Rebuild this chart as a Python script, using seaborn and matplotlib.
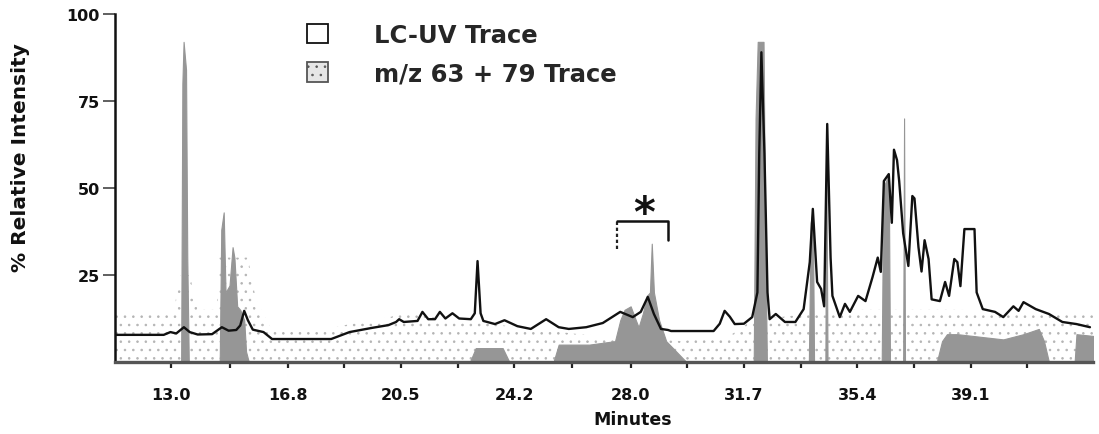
import matplotlib
matplotlib.use("Agg")
import matplotlib.pyplot as plt
from matplotlib.patches import Patch
import seaborn as sns

# LC-UV absorbance trace (minutes, % relative intensity)
uv_time = [11.16, 12.75, 12.97, 13.16, 13.41, 13.60, 13.86, 14.33, 14.65, 14.87,
           15.12, 15.25, 15.38, 15.50, 15.66, 16.01, 16.29, 18.22, 18.82, 19.55,
           20.09, 20.34, 20.44, 20.59, 21.04, 21.20, 21.39, 21.61, 21.77, 21.95,
           22.18, 22.40, 22.78, 22.91, 23.00, 23.10, 23.19, 23.57, 23.88, 24.30,
           24.74, 25.24, 25.65, 25.98, 26.55, 27.09, 27.66, 28.07, 28.33, 28.56,
           28.76, 28.99, 29.22, 29.32, 30.71, 30.91, 31.07, 31.24, 31.40, 31.70,
           31.97, 32.14, 32.20, 32.27, 32.37, 32.47, 32.54, 32.74, 33.04, 33.38,
           33.65, 33.85, 33.95, 34.09, 34.22, 34.32, 34.42, 34.53, 34.59, 34.83,
           35.00, 35.16, 35.43, 35.67, 35.90, 36.07, 36.17, 36.27, 36.43, 36.53,
           36.60, 36.70, 36.77, 36.90, 37.07, 37.20, 37.27, 37.40, 37.50, 37.60,
           37.73, 37.83, 38.10, 38.27, 38.40, 38.57, 38.67, 38.77, 38.90, 39.23,
           39.30, 39.50, 39.90, 40.17, 40.50, 40.67, 40.83, 41.23, 41.66, 42.10,
           42.56, 43.00]
uv_signal = [7.8, 7.8, 8.6, 8.2, 10.0, 8.6, 7.9, 8.0, 10.0, 9.0,
             9.2, 10.5, 14.7, 12.0, 9.3, 8.6, 6.6, 6.6, 8.6, 9.8,
             10.6, 11.5, 12.3, 11.5, 11.8, 14.4, 12.3, 12.3, 14.4, 12.5,
             14.0, 12.5, 12.3, 14.0, 29.0, 14.0, 11.8, 10.9, 12.0, 10.3,
             9.5, 12.3, 10.0, 9.5, 10.0, 11.2, 14.4, 12.9, 14.4, 18.7,
             13.8, 9.5, 9.2, 8.9, 8.9, 11.0, 14.7, 13.0, 10.9, 11.0,
             12.9, 20.0, 60.0, 89.0, 60.0, 20.0, 12.3, 13.8, 11.5, 11.5,
             15.2, 28.7, 44.0, 23.0, 21.0, 16.0, 68.4, 30.0, 19.0, 12.9,
             16.7, 14.4, 19.0, 17.5, 24.4, 30.0, 25.9, 52.0, 54.0, 40.0,
             61.0, 58.0, 52.0, 37.0, 27.6, 47.7, 47.0, 33.0, 26.0, 35.0,
             29.6, 18.0, 17.5, 23.0, 19.0, 29.6, 28.7, 21.8, 38.2, 38.2,
             20.0, 15.2, 14.4, 12.9, 16.0, 14.7, 17.2, 15.2, 13.8, 11.5,
             10.9, 10.0]

# m/z 63 + 79 ion trace, dense part
mz_time = [11.16, 13.32, 13.36, 13.40, 13.48, 13.52, 13.57, 14.58, 14.63, 14.71,
           14.77, 14.90, 15.00, 15.06, 15.15, 15.25, 15.38, 15.44, 15.53, 22.75,
           22.94, 23.82, 24.04, 25.48, 25.65, 26.65, 27.49, 27.66, 27.80, 28.00,
           28.17, 28.26, 28.40, 28.53, 28.63, 28.69, 28.76, 28.93, 29.16, 29.49,
           29.82, 32.02, 32.08, 32.15, 32.34, 32.39, 32.45, 33.82, 33.88, 33.95,
           33.99, 34.36, 34.39, 34.43, 36.20, 36.25, 36.43, 36.47, 36.90, 36.93,
           36.96, 38.00, 38.17, 38.33, 38.67, 39.17, 39.67, 40.17, 40.83, 41.33,
           41.50, 41.66, 42.50, 42.56, 43.10]
mz_signal = [0, 0, 80, 92, 84, 30, 0, 0, 38, 43,
             20, 22, 33, 30, 16, 15, 12, 3, 0, 0,
             4, 4, 0, 0, 5, 5, 6, 12, 15, 16,
             12, 10, 14, 19, 20, 34, 20, 12, 6, 3,
             0, 0, 70, 92, 92, 40, 0, 0, 40, 44,
             0, 0, 62, 0, 0, 50, 54, 0, 0, 70,
             0, 0, 6, 8, 8, 7.5, 7, 6.5, 8, 9.5,
             6, 0, 0, 8, 7.5]

# m/z trace, scattered low-level signal envelope
scatter_time = [11.16, 13.06, 13.30, 13.60, 13.86, 14.49, 14.56, 15.50, 15.76, 16.23,
                18.29, 20.18, 20.50, 22.40, 24.30, 26.30, 29.66, 31.31, 31.97, 35.00,
                38.67, 43.10]
scatter_level = [14, 14, 25, 25, 15, 15, 30, 30, 18, 10,
                 10, 13, 14, 12, 10, 8, 6, 8, 12, 15,
                 15, 14]

x_ticks = [13.0, 16.8, 20.5, 24.2, 28.0, 31.7, 35.4, 39.1]
x_minor = [14.9, 18.65, 22.35, 26.1, 29.85, 33.55, 37.25, 40.95]
y_ticks = [25, 50, 75, 100]
series_labels = ["LC-UV Trace", "m/z 63 + 79 Trace"]

sns.set_theme(style="ticks")
plt.rcParams["font.family"] = ["DejaVu Sans"]
plt.rcParams["hatch.linewidth"] = 0.6

W, H = 1099, 435
fig = plt.figure(figsize=(W / 100, H / 100), dpi=100)
ax = fig.add_axes([115 / W, 72 / H, (1093 - 115) / W, 348 / H])

gray = "#969696"
ax.fill_between(scatter_time, 0, scatter_level, facecolor="none",
                edgecolor="#b4b4b4", hatch="..", linewidth=0, zorder=1)
ax.fill_between(mz_time, 0, mz_signal, facecolor=gray, edgecolor=gray,
                linewidth=0.8, zorder=2)
sns.lineplot(x=uv_time, y=uv_signal, color="#111111", linewidth=1.7,
             estimator=None, sort=False, ax=ax, zorder=3)

# bracket marking the region of interest
ax.plot([27.55, 27.55], [32.5, 40.5], color="#222222", lw=1.6, ls=(0, (1.5, 1.2)), zorder=4)
ax.plot([27.55, 29.22, 29.22], [40.5, 40.5, 35.0], color="#111111", lw=1.8, zorder=4)
ax.text(28.43, 36.5, "*", ha="center", va="bottom", fontsize=30,
        fontweight="bold", color="#111111")

ax.set_xlim(11.16, 43.1)
ax.set_ylim(0, 100)
ax.set_xticks(x_ticks)
ax.set_xticklabels([f"{t:.1f}" for t in x_ticks])
ax.set_xticks(x_minor, minor=True)
ax.set_yticks(y_ticks)

for side in ("top", "right"):
    ax.spines[side].set_visible(False)
ax.spines["left"].set_color("#111111")
ax.spines["left"].set_linewidth(1.8)
ax.spines["bottom"].set_color("#555555")
ax.spines["bottom"].set_linewidth(2.4)

ax.tick_params(axis="x", which="both", direction="out", length=4, width=1.6,
               color="#222222", pad=14, labelsize=11.5)
ax.tick_params(axis="y", direction="out", length=9, width=1.2,
               color="#444444", pad=2, labelsize=11.5)
for lab in ax.get_xticklabels() + ax.get_yticklabels():
    lab.set_fontweight("bold")
    lab.set_color("#111111")

ax.set_xlabel("Minutes", fontsize=12.5, fontweight="bold", color="#111111")
ax.set_ylabel("% Relative Intensity", fontsize=14.5, fontweight="bold", color="#111111")
ax.xaxis.set_label_coords(0.529, -0.138)
ax.yaxis.set_label_coords(-0.087, 0.589)

handles = [
    Patch(facecolor="white", edgecolor="#111111", linewidth=1.3),
    Patch(facecolor="#e6e6e6", edgecolor="#555555", hatch="..", linewidth=1.3),
]
leg = fig.legend(handles, series_labels, loc="upper left",
                 bbox_to_anchor=(307 / W, 1 - 24 / H), frameon=False,
                 borderpad=0, borderaxespad=0, handlelength=0.85, handleheight=0.85,
                 handletextpad=1.9, labelspacing=0.6,
                 prop={"size": 17.5, "weight": "bold"})

fig.savefig("out.png", dpi=100)
